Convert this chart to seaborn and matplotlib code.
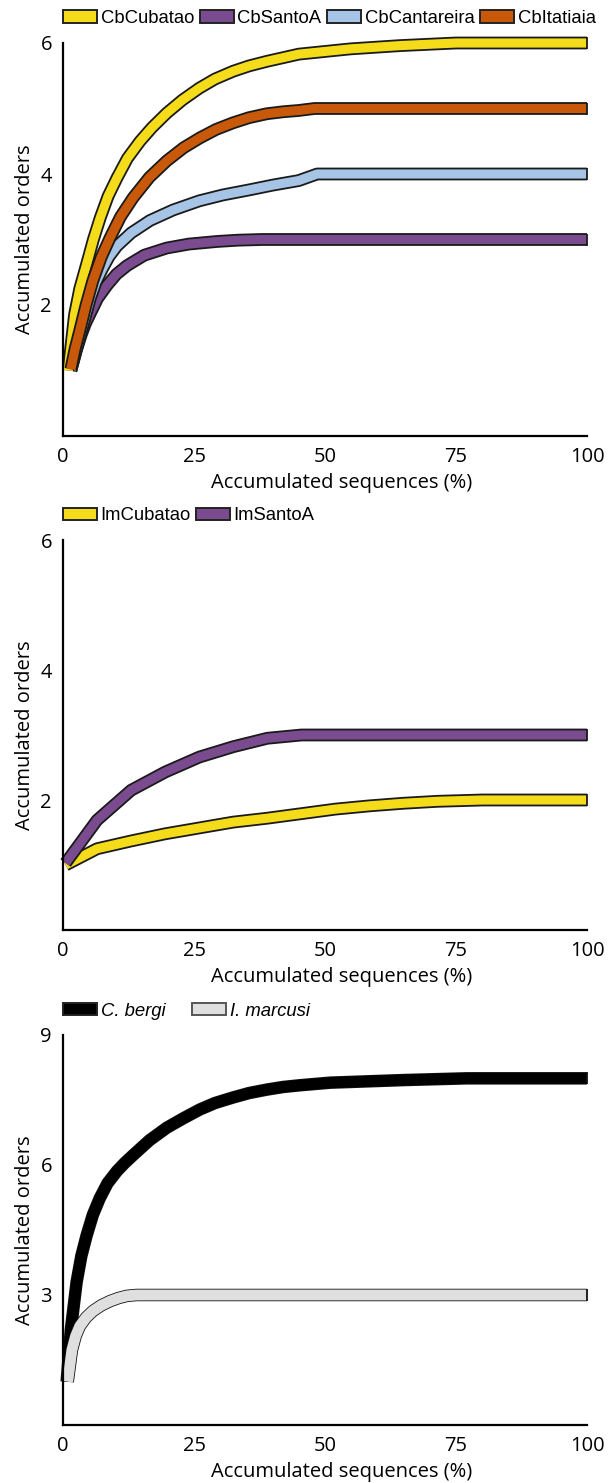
import pandas as pd
import matplotlib
matplotlib.use("Agg")
import matplotlib.pyplot as plt
import matplotlib.patheffects as pe
from matplotlib.patches import Patch
import seaborn as sns

# --- DATA ---
# panel 1: Cb populations
cb_cubatao_x = [1.0, 2.2, 3.2, 4.6, 5.8, 7.1, 8.6, 10.3, 12.3, 14.7, 17.0, 19.8, 22.8, 26.0, 29.0,
                32.5, 35.5, 38.9, 45.0, 54.8, 64.3, 75.0, 100.0]
cb_cubatao_y = [1.0, 1.85, 2.25, 2.65, 3.0, 3.33, 3.66, 3.94, 4.24, 4.5, 4.71, 4.93, 5.13, 5.31, 5.45,
                5.57, 5.65, 5.72, 5.83, 5.91, 5.96, 6.0, 6.0]
cb_santoa_x = [1.5, 2.5, 3.5, 4.3, 5.2, 6.6, 8.4, 10.2, 12.2, 15.5, 19.8, 24.0, 29.4, 33.5, 38.0, 100.0]
cb_santoa_y = [1.0, 1.3, 1.55, 1.72, 1.87, 2.1, 2.3, 2.47, 2.6, 2.76, 2.87, 2.93, 2.97, 2.99, 3.0, 3.0]
cb_cantareira_x = [1.5, 3.5, 5.2, 6.3, 7.5, 8.8, 10.3, 13.0, 16.6, 21.0, 26.0, 30.5, 35.7, 40.0, 45.0, 48.5, 100.0]
cb_cantareira_y = [1.0, 1.6, 2.1, 2.35, 2.55, 2.74, 2.9, 3.1, 3.29, 3.45, 3.59, 3.68, 3.76, 3.83, 3.9, 4.0, 4.0]
cb_itatiaia_x = [1.5, 2.3, 3.2, 4.4, 5.7, 7.3, 9.0, 11.0, 13.4, 16.5, 19.8, 23.0, 26.1, 29.2, 32.4,
                 35.5, 38.9, 42.0, 45.0, 48.0, 100.0]
cb_itatiaia_y = [1.02, 1.33, 1.61, 2.0, 2.37, 2.73, 3.03, 3.35, 3.64, 3.95, 4.2, 4.4, 4.55, 4.68, 4.78,
                 4.86, 4.92, 4.95, 4.97, 5.0, 5.0]

# panel 2: Im populations
im_cubatao_x = [0.5, 6.5, 13.0, 19.5, 26.0, 32.5, 39.0, 45.5, 52.0, 58.5, 65.0, 71.5, 80.0, 100.0]
im_cubatao_y = [1.0, 1.25, 1.37, 1.48, 1.57, 1.66, 1.72, 1.79, 1.86, 1.91, 1.95, 1.98, 2.0, 2.0]
im_santoa_x = [0.5, 6.5, 13.0, 19.5, 26.0, 32.5, 39.0, 45.5, 100.0]
im_santoa_y = [1.03, 1.69, 2.15, 2.43, 2.66, 2.82, 2.95, 3.0, 3.0]

# panel 3: species
c_bergi_x = [0.7, 1.5, 2.6, 3.5, 4.5, 5.7, 7.0, 8.5, 10.3, 11.8, 13.4, 16.5, 19.8, 23.0, 26.1, 29.0,
             32.5, 35.5, 38.9, 42.0, 45.2, 51.0, 58.0, 65.0, 77.0, 100.0]
c_bergi_y = [1.0, 2.2, 3.3, 3.9, 4.37, 4.85, 5.23, 5.58, 5.86, 6.05, 6.23, 6.57, 6.86, 7.08, 7.28, 7.43,
             7.56, 7.66, 7.74, 7.8, 7.84, 7.9, 7.93, 7.96, 8.0, 8.0]
i_marcusi_x = [0.9, 1.7, 2.4, 3.2, 4.4, 5.7, 7.3, 9.0, 10.6, 12.2, 14.0, 100.0]
i_marcusi_y = [1.0, 1.73, 2.05, 2.28, 2.48, 2.63, 2.76, 2.86, 2.93, 2.98, 3.0, 3.0]

COLORS = {
    "CbCubatao": "#f4dc1b", "CbSantoA": "#7b4b90",
    "CbCantareira": "#a6c5e6", "CbItatiaia": "#c8590b",
    "ImCubatao": "#f4dc1b", "ImSantoA": "#7b4b90",
    "C. bergi": "#000000", "I. marcusi": "#dfdfdf",
}

XLABEL = "Accumulated sequences (%)"
YLABEL = "Accumulated orders"
TICK_FONT = "Open Sans"
LEG_FONT = "Liberation Sans"


def long_df(series):
    rows = []
    for name, xs, ys in series:
        for x, y in zip(xs, ys):
            rows.append({"series": name, "x": x, "y": y})
    return pd.DataFrame(rows)


def draw_panel(ax, series, order, outer, inner, edge, ylim, yticks,
               legend_order, leg_italic=False, colspacing=0.3, end_marks=True):
    df = long_df(series)
    for name in order:
        sub = df[df["series"] == name]
        sns.lineplot(data=sub, x="x", y="y", ax=ax, color=COLORS[name],
                     estimator=None, sort=False, lw=inner, legend=False,
                     solid_capstyle="butt", solid_joinstyle="round", clip_on=False,
                     path_effects=[pe.Stroke(linewidth=outer, foreground=edge,
                                             capstyle="butt"), pe.Normal()])
        if end_marks:
            ax.plot(sub["x"].iloc[-1], sub["y"].iloc[-1], marker="|",
                    ms=outer, mew=1.3, color=edge, clip_on=False)

    ax.set_xlim(0, 100)
    ax.set_ylim(*ylim)
    ax.set_xticks([0, 25, 50, 75, 100])
    ax.set_yticks(yticks)
    ax.tick_params(length=0, labelsize=14.5, pad=8, colors="black")
    for lab in ax.get_xticklabels() + ax.get_yticklabels():
        lab.set_family(TICK_FONT)
    sns.despine(ax=ax)
    for sp in ("left", "bottom"):
        ax.spines[sp].set_linewidth(1.6)
        ax.spines[sp].set_color("black")
    ax.set_xlabel(XLABEL, fontsize=14.5, family=TICK_FONT, color="black")
    ax.set_ylabel(YLABEL, fontsize=14.5, family=TICK_FONT, color="black")
    ax.xaxis.set_label_coords(0.532, -0.095)
    ax.yaxis.set_label_coords(-0.053, 0.5)

    handles = []
    for name in legend_order:
        ec = "#555555" if name == "I. marcusi" else "#222222"
        handles.append(Patch(facecolor=COLORS[name], edgecolor=ec, lw=1.4, label=name))
    leg = ax.legend(handles=handles, loc="center left",
                    bbox_to_anchor=(0, 1 + 24 / 390), ncol=len(handles),
                    frameon=False, borderpad=0, borderaxespad=0,
                    handlelength=1.84, handleheight=0.68, handletextpad=0.2,
                    columnspacing=colspacing,
                    prop={"family": LEG_FONT, "size": 13.3,
                          "style": "italic" if leg_italic else "normal"})
    for t in leg.get_texts():
        t.set_color("black")
    return leg


sns.set_theme(style="white")
plt.rcParams["font.family"] = ["Open Sans", "DejaVu Sans"]
plt.rcParams["text.color"] = "black"

fig = plt.figure(figsize=(6.09, 14.83), dpi=100)
W, H = 609, 1483
left, width = 63 / W, 524 / W
ax1 = fig.add_axes([left, 1 - 436 / H, width, 393 / H])
ax2 = fig.add_axes([left, 1 - 930 / H, width, 390 / H])
ax3 = fig.add_axes([left, 1 - 1425 / H, width, 390 / H])

draw_panel(ax1,
           [("CbCubatao", cb_cubatao_x, cb_cubatao_y),
            ("CbSantoA", cb_santoa_x, cb_santoa_y),
            ("CbCantareira", cb_cantareira_x, cb_cantareira_y),
            ("CbItatiaia", cb_itatiaia_x, cb_itatiaia_y)],
           order=["CbSantoA", "CbCantareira", "CbCubatao", "CbItatiaia"],
           outer=9.2, inner=6.6, edge="#1a1a1a", ylim=(0, 6), yticks=[2, 4, 6],
           legend_order=["CbCubatao", "CbSantoA", "CbCantareira", "CbItatiaia"])

draw_panel(ax2,
           [("ImCubatao", im_cubatao_x, im_cubatao_y),
            ("ImSantoA", im_santoa_x, im_santoa_y)],
           order=["ImCubatao", "ImSantoA"],
           outer=9.2, inner=6.6, edge="#1a1a1a", ylim=(0, 6), yticks=[2, 4, 6],
           legend_order=["ImCubatao", "ImSantoA"], colspacing=0.25)

draw_panel(ax3,
           [("C. bergi", c_bergi_x, c_bergi_y),
            ("I. marcusi", i_marcusi_x, i_marcusi_y)],
           order=["C. bergi", "I. marcusi"],
           outer=9.0, inner=7.8, edge="#111111", ylim=(0, 9), yticks=[3, 6, 9],
           legend_order=["C. bergi", "I. marcusi"], leg_italic=True,
           colspacing=1.45)

fig.savefig("out.png", dpi=100)
